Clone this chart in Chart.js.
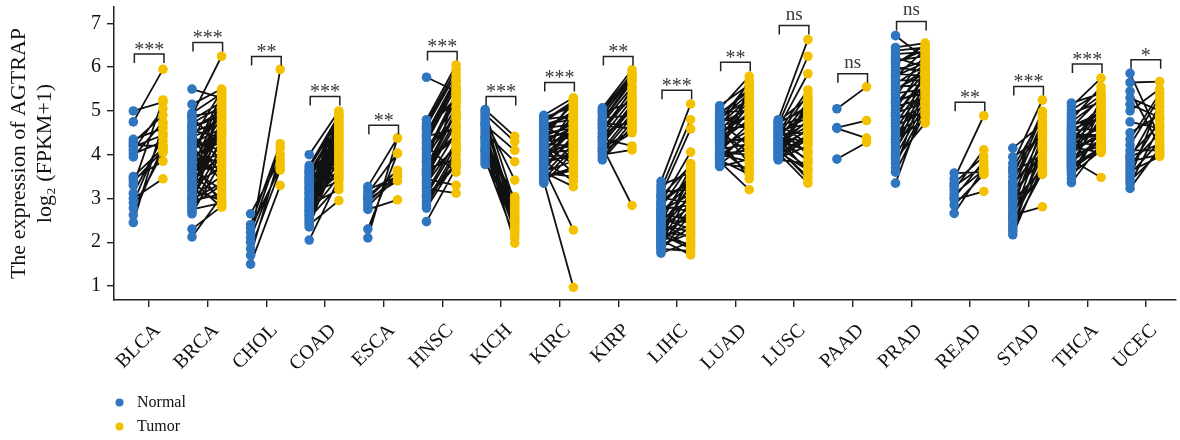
<!DOCTYPE html>
<html><head><meta charset="utf-8">
<script src="https://cdn.jsdelivr.net/npm/chart.js@4.4.1/dist/chart.umd.min.js"></script>
<style>html,body{margin:0;padding:0;background:#fff;}</style>
</head><body>
<canvas id="c" width="1180" height="440"></canvas>
<script>
// ---------------- data ----------------
const categories = ['BLCA','BRCA','CHOL','COAD','ESCA','HNSC','KICH','KIRC','KIRP','LIHC','LUAD','LUSC','PAAD','PRAD','READ','STAD','THCA','UCEC'];
const sigLabels = ['***','***','**','***','**','***','***','***','**','***','**','ns','ns','ns','**','***','***','*'];
const bracketLevels = [6.30,6.565,6.245,5.33,4.675,6.36,5.33,5.65,6.245,5.47,6.11,6.95,5.85,7.045,5.20,5.56,6.07,6.17];
const yTickValues = [1,2,3,4,5,6,7];
const seriesNames = ['Normal','Tumor'];

const normalBLCA = [5.00,4.75,4.35,4.28,4.22,4.18,4.10,4.02,3.95,3.50,3.45,3.38,3.30,3.12,3.00,2.90,2.78,2.62,2.45];
const tumorBLCA  = [5.20,5.95,4.60,4.90,4.20,4.45,5.05,4.30,4.75,4.15,3.85,4.10,5.25,4.40,3.45,4.50,4.05,4.20,4.70];

const normalBRCA = [5.50,5.15,4.95,4.90,4.85,4.80,4.72,4.65,4.60,4.55,4.50,4.45,4.40,4.35,4.30,4.25,4.20,4.15,4.10,4.05,4.00,3.95,3.90,3.85,3.80,3.75,3.70,3.65,3.60,3.55,3.50,3.45,3.40,3.35,3.30,3.25,3.20,3.15,3.10,3.05,3.00,2.95,2.90,2.85,2.80,2.75,2.70,2.65,2.30,2.12,4.62,4.38,3.98,3.72,3.48,3.22,2.98,4.88,4.12,3.62];
const tumorBRCA  = [5.30,5.50,5.40,6.25,4.20,5.20,5.10,4.90,5.00,4.40,4.80,3.90,4.70,5.45,4.10,4.60,3.40,4.95,4.50,3.80,5.35,4.30,2.85,4.00,4.85,3.60,5.15,3.20,4.45,3.00,5.05,4.65,2.80,4.25,3.70,4.55,2.95,4.35,5.25,3.50,4.15,3.10,4.75,3.30,4.05,2.90,5.40,3.85,2.82,3.05,4.90,3.55,5.20,4.60,3.95,4.80,3.35,5.00,4.45,3.75];

const normalCHOL = [2.65,2.40,2.32,2.22,2.10,2.00,1.85,1.70,1.50];
const tumorCHOL  = [3.90,4.25,3.70,4.15,3.80,5.95,3.65,4.00,3.30];

const normalCOAD = [4.00,3.75,3.70,3.65,3.60,3.55,3.50,3.45,3.40,3.35,3.30,3.25,3.20,3.15,3.10,3.05,3.00,2.95,2.90,2.85,2.80,2.75,2.70,2.65,2.60,2.55,2.50,2.45,2.40,2.35,2.05,3.62,3.38,3.12,2.88,2.62,3.48,3.22,2.98,2.72];
const tumorCOAD  = [5.00,4.90,4.80,4.20,4.70,4.60,3.90,4.50,4.95,4.40,3.60,4.30,4.85,4.10,3.40,4.00,4.75,3.80,4.65,3.20,4.55,3.70,4.45,3.50,4.35,3.30,4.25,3.95,2.95,4.15,3.45,4.05,3.85,4.88,3.65,4.45,3.75,4.60,3.55,4.30];

const normalESCA = [3.27,3.20,3.12,3.05,2.98,2.90,2.82,2.75,2.30,2.10,3.00];
const tumorESCA  = [4.38,3.50,4.03,3.64,3.40,3.55,3.50,2.97,4.03,4.38,3.64];

const normalHNSC = [5.77,4.80,4.72,4.65,4.58,4.50,4.42,4.35,4.28,4.20,4.12,4.05,3.98,3.90,3.82,3.75,3.68,3.60,3.52,3.45,3.38,3.30,3.22,3.15,3.08,3.00,2.92,2.85,2.78,2.47,4.60,4.25,3.95,3.65,3.35,3.05,4.45,4.15,3.85,3.55];
const tumorHNSC  = [5.45,6.05,5.95,5.85,5.30,5.75,4.60,5.65,5.55,3.60,5.20,5.40,4.90,5.10,4.40,5.00,3.90,4.80,4.70,3.30,4.50,5.50,3.12,4.30,4.20,3.75,4.10,4.00,3.85,3.70,5.25,4.65,5.35,4.95,4.25,3.80,5.70,4.85,4.45,4.15];

const normalKICH = [5.03,4.98,4.92,4.86,4.80,4.74,4.68,4.62,4.56,4.50,4.44,4.38,4.32,4.26,4.20,4.14,4.08,4.02,3.96,3.90,3.84,3.78,4.70,4.40,4.10];
const tumorKICH  = [4.42,2.90,4.30,2.60,3.42,2.45,4.10,2.80,2.30,3.84,2.70,2.20,3.00,2.50,1.98,2.65,3.04,2.40,2.85,2.10,2.55,2.95,2.75,2.35,2.25];

const normalKIRC = [4.90,4.85,4.80,4.75,4.70,4.65,4.60,4.55,4.50,4.45,4.40,4.35,4.30,4.25,4.20,4.15,4.10,4.05,4.00,3.95,3.90,3.85,3.80,3.75,3.70,3.65,3.60,3.55,3.50,3.45,3.40,3.35,4.62,4.48,4.32,4.18,4.02,3.88,3.72,3.58,4.78,4.22,3.98,3.62,4.42,4.08,3.82,3.48,4.68,4.12];
const tumorKIRC  = [5.30,5.10,4.90,5.20,4.80,4.30,4.70,5.00,4.60,3.90,4.50,5.25,4.40,4.20,4.85,3.60,4.65,4.10,5.05,4.00,4.55,3.40,4.75,4.35,2.28,4.45,3.27,4.25,3.70,4.15,0.97,4.05,4.95,5.15,4.60,3.80,4.50,3.95,4.40,3.50,5.22,4.85,4.30,3.85,4.70,4.20,4.00,3.65,4.90,4.55];

const normalKIRP = [5.07,5.02,4.96,4.90,4.84,4.78,4.72,4.66,4.60,4.54,4.48,4.42,4.36,4.30,4.24,4.18,4.12,4.06,4.00,3.94,3.88,4.98,4.70,4.50,4.32,4.15,4.80,4.62,4.40,4.08];
const tumorKIRP  = [5.94,5.85,5.20,5.75,4.90,5.65,5.55,4.60,5.45,5.35,4.80,5.25,4.20,5.15,5.05,2.84,4.95,4.85,4.11,4.75,4.65,5.80,4.70,5.50,5.10,4.55,5.70,5.30,5.00,4.50];

const normalLIHC = [3.39,3.30,3.22,3.15,3.08,3.02,2.96,2.90,2.84,2.78,2.72,2.66,2.60,2.55,2.50,2.45,2.40,2.35,2.30,2.25,2.20,2.15,2.10,2.05,2.00,1.95,1.90,1.85,1.80,1.75,2.88,2.62,2.42,2.22,2.02,1.88,3.05,2.75,2.52,2.32,2.12,1.98,2.68,2.38,2.18];
const tumorLIHC  = [5.16,3.60,4.80,3.20,4.59,2.90,3.40,4.06,2.70,3.80,3.10,2.50,3.55,2.30,3.00,3.70,2.10,2.80,3.30,1.90,2.60,3.50,2.40,1.71,3.15,2.20,2.95,1.80,2.65,2.00,3.45,2.55,3.25,2.15,3.65,2.35,3.75,2.85,2.45,3.05,1.95,2.75,3.35,2.25,1.85];

const normalLUAD = [5.12,5.05,4.98,4.92,4.86,4.80,4.74,4.68,4.62,4.56,4.50,4.44,4.38,4.32,4.26,4.20,4.14,4.08,4.02,3.96,3.90,3.84,3.78,3.73,4.95,4.65,4.35,4.05,3.80,4.88,4.58,4.28,3.98,4.72,4.42,4.12,3.88,4.78,4.48,4.18,3.92,4.60,4.30,4.00,4.52];
const tumorLUAD  = [5.60,5.79,5.00,5.50,4.60,5.40,4.20,5.30,3.80,5.20,4.90,5.10,3.45,4.80,4.40,5.00,3.60,4.70,4.10,5.55,4.50,3.20,4.30,3.90,5.45,4.85,5.35,4.00,3.70,5.25,4.65,5.15,4.45,5.05,4.75,4.25,3.55,5.65,4.95,4.55,4.15,5.70,4.35,3.85,4.05];

const normalLUSC = [4.80,4.76,4.72,4.68,4.64,4.60,4.56,4.52,4.48,4.44,4.40,4.36,4.32,4.28,4.24,4.20,4.16,4.12,4.08,4.04,4.00,3.96,3.92,3.88,4.74,4.62,4.50,4.38,4.26,4.14,4.02,3.90,4.70,4.54,4.42,4.30,4.18,4.06,3.94,4.46];
const tumorLUSC  = [6.63,5.30,5.10,6.25,4.90,5.85,4.70,5.48,4.50,5.37,4.30,5.20,4.10,3.90,5.00,3.70,4.80,3.50,4.60,3.35,4.40,5.15,4.20,3.80,5.05,4.00,4.85,3.60,4.65,3.45,4.45,5.25,4.25,4.05,3.85,4.75,4.55,3.65,4.35,4.95];

const normalPAAD = [5.05,4.62,4.60,3.90];
const tumorPAAD  = [5.55,4.78,4.38,4.28];

const normalPRAD = [6.72,6.45,6.38,6.30,6.22,6.15,6.08,6.00,5.92,5.85,5.78,5.70,5.62,5.55,5.48,5.40,5.32,5.25,5.18,5.10,5.02,4.95,4.88,4.80,4.72,4.65,4.58,4.50,4.42,4.35,4.28,4.20,4.12,4.05,3.98,3.90,3.80,3.70,3.60,3.35,6.10,5.80,5.50,5.20,4.90];
const tumorPRAD  = [6.20,6.55,6.45,6.35,6.00,6.25,6.50,5.90,6.15,5.80,6.40,5.70,6.05,5.60,5.95,5.50,6.30,5.40,5.85,5.30,6.10,5.20,5.75,5.10,5.65,5.00,5.55,4.90,5.45,4.80,5.35,6.00,5.25,5.70,5.15,4.72,5.05,5.60,4.95,5.20,6.40,6.10,5.85,5.50,5.80];

const normalREAD = [3.58,3.45,3.35,3.28,3.20,3.10,3.02,2.97,2.85,2.66];
const tumorREAD  = [3.60,4.89,3.96,3.75,4.11,3.65,3.85,3.16,3.55,3.68];

const normalSTAD = [4.15,3.95,3.80,3.70,3.60,3.50,3.40,3.30,3.22,3.15,3.08,3.00,2.92,2.85,2.78,2.70,2.62,2.55,2.48,2.40,2.32,2.25,2.17,3.65,3.35,2.95,2.60];
const tumorSTAD  = [4.70,4.40,5.25,4.85,4.00,4.99,4.60,4.20,4.75,3.90,4.50,4.10,4.30,3.70,4.65,3.55,2.81,4.45,3.80,4.15,3.60,4.25,3.75,4.55,4.90,3.65,3.95];

const normalTHCA = [5.18,5.10,4.95,4.80,4.70,4.62,4.55,4.48,4.42,4.36,4.30,4.24,4.18,4.12,4.06,4.00,3.94,3.88,3.82,3.76,3.70,3.62,3.55,3.45,3.36,4.88,4.66,4.45,4.27,4.09,3.91,3.73,5.02,4.58,4.33,4.15,3.97,3.79,4.52,4.21,4.03,3.85,4.39,3.67,4.75];
const tumorTHCA  = [5.40,5.75,5.20,5.55,4.80,5.30,4.60,5.10,4.40,5.00,4.20,4.90,4.05,4.70,4.50,5.25,4.30,3.48,4.85,4.15,5.05,4.55,4.10,4.65,4.25,5.35,4.95,4.45,5.15,4.75,4.35,4.10,5.45,4.85,4.60,4.40,4.20,4.08,5.00,4.70,4.50,4.30,4.90,4.15,5.25];

const normalUCEC = [5.86,5.65,5.45,5.30,5.00,4.75,4.50,4.22,4.10,4.00,3.92,3.85,3.78,3.70,3.62,3.55,3.48,3.40,3.33,3.23,5.15,4.35,3.95];
const tumorUCEC  = [4.40,5.67,4.20,5.00,5.50,4.60,4.90,5.30,4.10,4.70,5.10,4.00,4.50,4.80,3.96,4.30,5.20,4.05,4.65,4.15,4.85,5.40,4.25];

const normalSeries = [normalBLCA,normalBRCA,normalCHOL,normalCOAD,normalESCA,normalHNSC,normalKICH,normalKIRC,normalKIRP,normalLIHC,normalLUAD,normalLUSC,normalPAAD,normalPRAD,normalREAD,normalSTAD,normalTHCA,normalUCEC];
const tumorSeries  = [tumorBLCA,tumorBRCA,tumorCHOL,tumorCOAD,tumorESCA,tumorHNSC,tumorKICH,tumorKIRC,tumorKIRP,tumorLIHC,tumorLUAD,tumorLUSC,tumorPAAD,tumorPRAD,tumorREAD,tumorSTAD,tumorTHCA,tumorUCEC];

// ---------------- style ----------------
const BLUE = '#2f75bf';
const YELLOW = '#f3c100';
const SERIF = '"Liberation Serif", "DejaVu Serif", serif';
const NORMAL_OFFSET = -0.27;
const TUMOR_OFFSET = 0.235;

// ---------------- build datasets ----------------
const normalPts = [], tumorPts = [], links = [];
categories.forEach((cat, i) => {
  const n = normalSeries[i], t = tumorSeries[i];
  n.forEach((v, j) => {
    normalPts.push({x: i + NORMAL_OFFSET, y: v});
    tumorPts.push({x: i + TUMOR_OFFSET, y: t[j]});
    links.push({x: i + NORMAL_OFFSET, y: v});
    links.push({x: i + TUMOR_OFFSET, y: t[j]});
    links.push({x: i, y: null});
  });
});

const bracketPlugin = {
  id: 'brackets',
  afterDatasetsDraw(chart) {
    const {ctx, scales: {x, y}} = chart;
    ctx.save();
    ctx.strokeStyle = '#222';
    ctx.lineWidth = 1.5;
    ctx.fillStyle = '#3a3a3a';
    ctx.textAlign = 'center';
    ctx.textBaseline = 'alphabetic';
    categories.forEach((c, i) => {
      const x1 = x.getPixelForValue(i + NORMAL_OFFSET) + 1;
      const x2 = x.getPixelForValue(i + TUMOR_OFFSET) + 1;
      const yy = y.getPixelForValue(bracketLevels[i]);
      ctx.beginPath();
      ctx.moveTo(x1, yy + 9);
      ctx.lineTo(x1, yy);
      ctx.lineTo(x2, yy);
      ctx.lineTo(x2, yy + 9);
      ctx.stroke();
      const lab = sigLabels[i];
      if (lab.startsWith('*')) {
        ctx.font = '20px ' + SERIF;
        ctx.fillText(lab, (x1 + x2) / 2, yy + 2);
      } else {
        ctx.font = '19px ' + SERIF;
        ctx.fillText(lab, (x1 + x2) / 2, yy - 6);
      }
    });
    ctx.restore();
  }
};

const legendPlugin = {
  id: 'stackedLegend',
  afterDraw(chart) {
    const ctx = chart.ctx;
    const items = chart.data.datasets.filter(d => d.inLegend);
    ctx.save();
    ctx.font = '16px ' + SERIF;
    ctx.textBaseline = 'middle';
    ctx.textAlign = 'left';
    items.forEach((d, k) => {
      const yy = 402.5 + k * 24;
      ctx.fillStyle = d.backgroundColor;
      ctx.beginPath();
      ctx.arc(119.5, yy, 4, 0, Math.PI * 2);
      ctx.fill();
      ctx.fillStyle = '#111';
      ctx.fillText(d.label, 137, yy);
    });
    ctx.restore();
  }
};

new Chart(document.getElementById('c'), {
  type: 'scatter',
  data: {
    datasets: [
      {label: seriesNames[0], inLegend: true, data: normalPts, backgroundColor: BLUE, borderColor: BLUE,
       pointRadius: 4.8, pointBorderWidth: 0, pointHoverRadius: 4.8, order: 1},
      {label: seriesNames[1], inLegend: true, data: tumorPts, backgroundColor: YELLOW, borderColor: YELLOW,
       pointRadius: 4.8, pointBorderWidth: 0, pointHoverRadius: 4.8, order: 1},
      {label: 'pairs', data: links, showLine: true, spanGaps: false, borderColor: '#111', borderWidth: 1.8,
       pointRadius: 0, pointHoverRadius: 0, backgroundColor: '#111', order: 2}
    ]
  },
  options: {
    responsive: false,
    animation: false,
    events: [],
    layout: {padding: {top: 7, left: 0, right: 0, bottom: 0}},
    plugins: {legend: {display: false}, tooltip: {enabled: false}},
    scales: {
      x: {
        type: 'linear', min: -0.6, max: 17.5,
        afterBuildTicks: (s) => { s.ticks = categories.map((c, i) => ({value: i})); },
        afterFit: (s) => { s.height = 140; s.paddingLeft = 0; s.paddingRight = 0; },
        ticks: {
          callback: (v) => categories[v] ?? '',
          autoSkip: false, minRotation: 45, maxRotation: 45,
          font: {family: SERIF, size: 20}, color: '#111', padding: 12, labelOffset: 8
        },
        grid: {display: true, drawOnChartArea: false, drawTicks: true, tickLength: 7, color: '#222', lineWidth: 1.4},
        border: {display: true, color: '#222', width: 1.5}
      },
      y: {
        type: 'linear', min: 0.68, max: 7.375,
        afterBuildTicks: (s) => { s.ticks = yTickValues.map(v => ({value: v})); },
        afterFit: (s) => { s.width = 114; s.paddingTop = 0; s.paddingBottom = 0; },
        ticks: {font: {family: SERIF, size: 20}, color: '#111', padding: 6},
        grid: {display: true, drawOnChartArea: false, drawTicks: true, tickLength: 7, color: '#222', lineWidth: 1.4},
        border: {display: true, color: '#222', width: 1.5},
        title: {
          display: true,
          text: ['The expression of AGTRAP', 'log\u2082 (FPKM+1)'],
          font: {family: SERIF, size: 22, lineHeight: 1.2},
          color: '#111',
          padding: {top: 6, bottom: 0}
        }
      }
    }
  },
  plugins: [bracketPlugin, legendPlugin]
});
</script>
</body></html>
